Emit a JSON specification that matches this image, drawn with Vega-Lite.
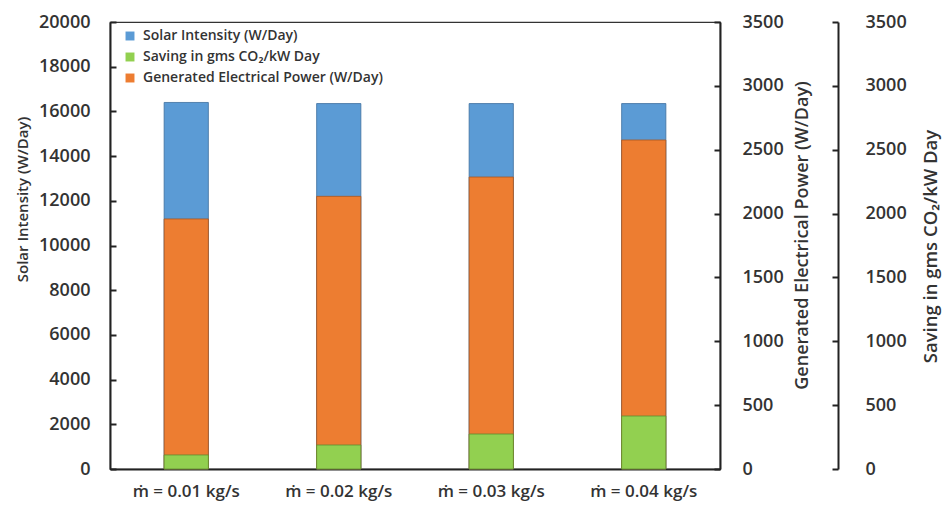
{
  "$schema": "https://vega.github.io/schema/vega-lite/v6.json",
  "autosize": {"type": "none"},
  "padding": {"left": 110, "top": 22, "right": 225, "bottom": 37},
  "width": 610,
  "height": 447,
  "background": "white",
  "config": {
    "font": "Open Sans",
    "view": {"stroke": "#333", "strokeWidth": 1.2},
    "axis": {
      "labelFont": "Open Sans",
      "labelFontSize": 18,
      "labelFontWeight": 600,
      "labelColor": "#333",
      "titleFont": "Open Sans",
      "titleFontSize": 16.5,
      "titleFontWeight": 600,
      "titleColor": "#333",
      "domainColor": "#222",
      "domainWidth": 2,
      "tickColor": "#222",
      "tickWidth": 2,
      "grid": false
    },
    "legend": {
      "labelFont": "Open Sans",
      "labelFontSize": 14,
      "labelFontWeight": 600,
      "labelColor": "#333",
      "labelLimit": 400
    }
  },
  "data": {
    "values": [
      {"m": "ṁ = 0.01 kg/s", "solar": 16400, "power": 1958, "saving": 110},
      {"m": "ṁ = 0.02 kg/s", "solar": 16350, "power": 2135, "saving": 188},
      {"m": "ṁ = 0.03 kg/s", "solar": 16350, "power": 2286, "saving": 274},
      {"m": "ṁ = 0.04 kg/s", "solar": 16350, "power": 2576, "saving": 415}
    ]
  },
  "encoding": {
    "x": {
      "field": "m",
      "type": "nominal",
      "sort": null,
      "scale": {"paddingInner": 0.71, "paddingOuter": 0.355},
      "axis": {
        "title": null,
        "labelAngle": 0,
        "ticks": false,
        "labelPadding": 14,
        "labelFontSize": 17
      }
    }
  },
  "layer": [
    {
      "mark": {"type": "bar", "stroke": "#3d6f9e", "strokeWidth": 0.8},
      "encoding": {
        "y": {
          "field": "solar",
          "type": "quantitative",
          "scale": {"domain": [0, 20000], "nice": false},
          "axis": {
            "title": "Solar Intensity (W/Day)",
            "orient": "left",
            "values": [0, 2000, 4000, 6000, 8000, 10000, 12000, 14000, 16000, 18000, 20000],
            "format": "d",
            "tickSize": -6,
            "labelPadding": 26,
            "titleFontSize": 15,
            "titleAngle": 270,
            "titleBaseline": "middle",
            "titleAlign": "center",
            "titleX": -88,
            "titleY": 177
          }
        },
        "color": {
          "datum": "Solar Intensity (W/Day)",
          "type": "nominal",
          "scale": {
            "domain": ["Solar Intensity (W/Day)", "Saving in gms CO₂/kW Day", "Generated Electrical Power (W/Day)"],
            "range": ["#5B9BD5", "#92D050", "#ED7D31"]
          },
          "legend": {
            "title": null,
            "orient": "none",
            "legendX": 13,
            "legendY": 7,
            "symbolType": "square",
            "symbolSize": 80,
            "symbolStrokeWidth": 0,
            "rowPadding": 7,
            "labelOffset": 6
          }
        }
      }
    },
    {
      "mark": {"type": "bar", "stroke": "#a8551f", "strokeWidth": 0.8},
      "encoding": {
        "y": {
          "field": "power",
          "type": "quantitative",
          "scale": {"domain": [0, 3500], "nice": false},
          "axis": {
            "title": "Generated Electrical Power (W/Day)",
            "orient": "right",
            "values": [0, 500, 1000, 1500, 2000, 2500, 3000, 3500],
            "format": "d",
            "tickSize": -6,
            "labelPadding": 28,
            "titleFontSize": 18,
            "titleAngle": 270,
            "titleBaseline": "middle",
            "titleAlign": "center",
            "titleX": 82,
            "titleY": 213
          }
        },
        "color": {"datum": "Generated Electrical Power (W/Day)", "type": "nominal"}
      }
    },
    {
      "mark": {"type": "bar", "stroke": "#5e8c2e", "strokeWidth": 0.8},
      "encoding": {
        "y": {
          "field": "saving",
          "type": "quantitative",
          "scale": {"domain": [0, 3500], "nice": false},
          "axis": {
            "title": "Saving in gms CO₂/kW Day",
            "orient": "right",
            "offset": 118,
            "values": [0, 500, 1000, 1500, 2000, 2500, 3000, 3500],
            "format": "d",
            "tickSize": -6,
            "labelPadding": 33,
            "titleFontSize": 18.5,
            "titleAngle": 270,
            "titleBaseline": "middle",
            "titleAlign": "center",
            "titleX": 92,
            "titleY": 224
          }
        },
        "color": {"datum": "Saving in gms CO₂/kW Day", "type": "nominal"}
      }
    }
  ],
  "resolve": {"scale": {"y": "independent"}}
}
